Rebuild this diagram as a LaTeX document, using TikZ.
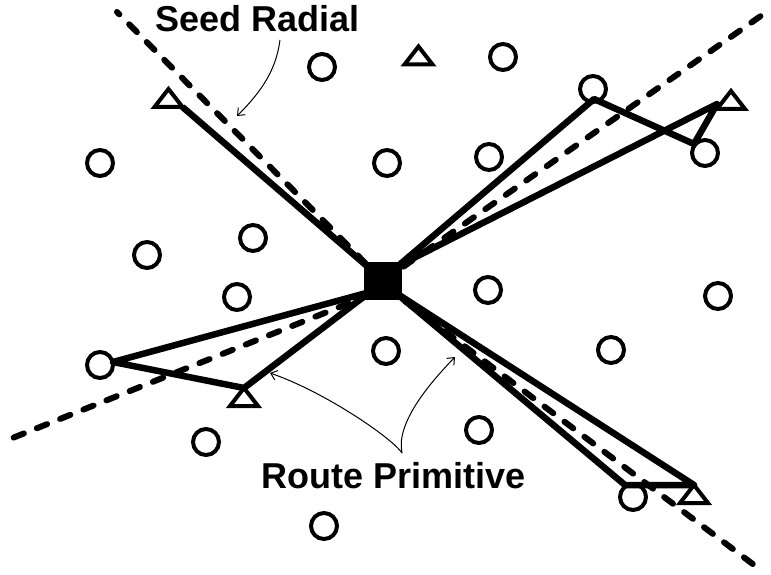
\documentclass[tikz,border=0pt]{standalone}
\usepackage{fontspec}
\setmainfont{Liberation Sans}
\usetikzlibrary{arrows.meta}
\begin{document}
\begin{tikzpicture}[x=1pt,y=-1pt,
  site/.style={circle,draw,line width=4pt,minimum size=26pt,inner sep=0pt},
  tri/.style={draw,line width=4pt,line join=miter},
  route/.style={line width=6.5pt,line join=round},
  seed/.style={line width=6pt,dash pattern=on 11pt off 14pt,line cap=round},
  note/.style={line width=1pt,-{Straight Barb[length=6pt,width=10pt]}},
  lbl/.style={font=\fontsize{36}{42}\selectfont\bfseries,anchor=base,inner sep=0pt},
  pics/trisym/.style={code={
    \draw[tri] (-14,9) -- (0,-9) -- (14,9) -- cycle;
    \coordinate (-apex) at (0,-9);
    \coordinate (-bl) at (-14,9);
    \coordinate (-br) at (14,9);}}]
\useasboundingbox (0,0) rectangle (771,575);

% centre anchors
\coordinate (c) at (383,281);
\coordinate (cTL) at (368,267);
\coordinate (cTR) at (398,266);
\coordinate (cBL) at (370,292);
\coordinate (cBR) at (396,293);

% seed radials (dashed)
\coordinate (s1) at (117,12);
\coordinate (s2) at (765,13);
\coordinate (s3) at (10,439);
\coordinate (s4) at (758,568);
\coordinate (s3a) at (372,294);
\coordinate (s4a) at (385,286);
\draw[seed] (c) -- (s1);
\draw[seed] (c) -- (s2);
\draw[seed] (s3a) -- (s3);
\draw[seed] (s4a) -- (s4);

% circles
\node[site] (o1) at (322,67) {};
\node[site] (o2) at (503,57) {};
\node[site] (o3) at (593,89) {};
\node[site] (o4) at (100,163) {};
\node[site] (o5) at (387,163) {};
\node[site] (o6) at (489,157) {};
\node[site] (o7) at (705,153) {};
\node[site] (o8) at (147,255) {};
\node[site] (o9) at (253,238) {};
\node[site] (o10) at (237,297) {};
\node[site] (o11) at (488,290) {};
\node[site] (o12) at (718,296) {};
\node[site] (o13) at (386,351) {};
\node[site] (o14) at (611,350) {};
\node[site] (o15) at (100,365) {};
\node[site] (o16) at (206,442) {};
\node[site] (o17) at (479,430) {};
\node[site] (o18) at (633,497) {};
\node[site] (o19) at (324,526) {};

% triangles
\pic (t1) at (168.5,98) {trisym};
\pic (t2) at (418.5,55.5) {trisym};
\pic (t3) at (731,100) {trisym};
\pic (t4) at (244,397) {trisym};
\pic (t5) at (694,494) {trisym};

% route primitives
\coordinate (p1) at (594,99);
\coordinate (p2) at (694,144);
\coordinate (p3) at (717,104);
\coordinate (q1) at (113,362);
\coordinate (r1) at (625,485);
\draw[route] (cTL) -- (t1-br);
\draw[route] (cTR) -- (p1) -- (p2) -- (p3) -- (cTR);
\draw[route] (cBL) -- (q1) -- (t4-apex) -- (cBL);
\draw[route] (cBR) -- (r1) -- (t5-apex) -- (cBR);

% source square
\node[fill=black,minimum size=38pt,inner sep=0pt] (sq) at (c) {};

% labels
\node[lbl] (seedlbl) at (257.5,32) {Seed Radial};
\node[lbl] (routelbl) at (394,488) {Route Primitive};

% annotation arrows
\coordinate (a0) at (280,40);
\coordinate (a1) at (237,116);
\draw[note] (a0) .. controls (276,70) and (262,91) .. (a1);
\coordinate (b0) at (402,453);
\coordinate (b1) at (270,373);
\coordinate (b2) at (455,357);
\draw[note] (b0) .. controls (392,438) and (325,392) .. (b1);
\draw[note] (b0) .. controls (396,425) and (425,388) .. (b2);
\end{tikzpicture}
\end{document}
